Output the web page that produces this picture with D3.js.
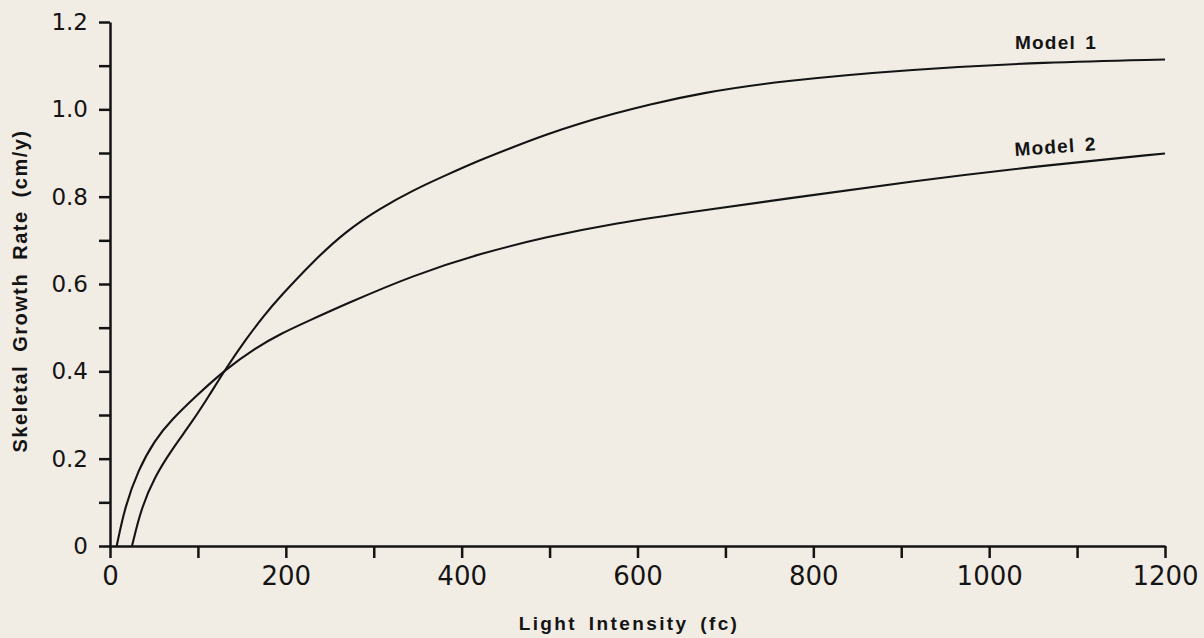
<!DOCTYPE html>
<html>
<head>
<meta charset="utf-8">
<script src="https://cdn.jsdelivr.net/npm/d3@7"></script>
<style>
  html, body { margin: 0; padding: 0; background: #f1ece4; }
  svg { display: block; }
</style>
</head>
<body>
<svg id="chart" width="1204" height="638"></svg>
<script>
// ---- Data ----
const xTicks = [0, 100, 200, 300, 400, 500, 600, 700, 800, 900, 1000, 1100, 1200];
const xTickLabels = ["0", "", "200", "", "400", "", "600", "", "800", "", "1000", "", "1200"];
const yTicks = [0, 0.1, 0.2, 0.3, 0.4, 0.5, 0.6, 0.7, 0.8, 0.9, 1.0, 1.1, 1.2];
const yTickLabels = ["0", "", "0.2", "", "0.4", "", "0.6", "", "0.8", "", "1.0", "", "1.2"];

const model1Light = [25, 36, 51, 70, 93, 112, 132, 154, 176, 193, 231, 269, 307, 345, 383, 421, 459, 497, 535, 573, 611, 671, 762, 913, 1065, 1200];
const model1Rate  = [0, 0.090, 0.159, 0.220, 0.283, 0.342, 0.407, 0.472, 0.530, 0.570, 0.652, 0.722, 0.773, 0.815, 0.850, 0.884, 0.914, 0.943, 0.968, 0.990, 1.010, 1.037, 1.065, 1.092, 1.108, 1.114];
const model2Light = [7.6, 17, 32, 51, 70, 97, 133, 165, 195, 222, 269, 345, 421, 497, 573, 671, 762, 913, 1065, 1200];
const model2Rate  = [0, 0.090, 0.174, 0.243, 0.289, 0.342, 0.407, 0.453, 0.487, 0.512, 0.555, 0.620, 0.670, 0.708, 0.739, 0.768, 0.793, 0.836, 0.872, 0.899];

const seriesNames = ["Model 1", "Model 2"];
const xTitle = "Light Intensity (fc)";
const yTitle = "Skeletal Growth Rate (cm/y)";

// ---- Layout ----
const svg = d3.select("#chart");
const ink = "#141414";
const x = d3.scaleLinear().domain([0, 1200]).range([110, 1165]);
const y = d3.scaleLinear().domain([0, 1.2]).range([546, 22]);

// axes
const xAxis = d3.axisBottom(x).tickValues(xTicks)
  .tickFormat((d, i) => xTickLabels[i]).tickSize(12).tickSizeOuter(0).tickPadding(9);
const yAxis = d3.axisLeft(y).tickValues(yTicks)
  .tickFormat((d, i) => yTickLabels[i]).tickSize(11).tickSizeOuter(0).tickPadding(11);

const gx = svg.append("g").attr("transform", `translate(0,${y(0)})`).call(xAxis);
const gy = svg.append("g").attr("transform", `translate(${x(0)},0)`).call(yAxis);

[gx, gy].forEach(g => {
  g.select(".domain").attr("stroke", ink).attr("stroke-width", 2.5);
  g.selectAll(".tick line").attr("stroke", ink).attr("stroke-width", 2.5);
  g.selectAll(".tick text").attr("fill", ink).attr("font-family", "DejaVu Sans");
});
gx.selectAll(".tick text").attr("font-size", 26);
gy.selectAll(".tick text").attr("font-size", 23);

// curves
const line = d3.line().x(d => x(d[0])).y(d => y(d[1])).curve(d3.curveBasis);
const m1 = model1Light.map((v, i) => [v, model1Rate[i]]);
const m2 = model2Light.map((v, i) => [v, model2Rate[i]]);
[m1, m2].forEach(data => {
  svg.append("path").datum(data).attr("d", line)
    .attr("fill", "none").attr("stroke", ink).attr("stroke-width", 2.1);
});

// series labels
svg.append("text").attr("x", 1015).attr("y", 49)
  .attr("font-family", "Liberation Sans").attr("font-weight", "bold").attr("font-size", 19)
  .attr("letter-spacing", 1.2).attr("word-spacing", 3).attr("fill", ink).text(seriesNames[0]);
svg.append("text").attr("transform", "translate(1015,156) rotate(-4)")
  .attr("font-family", "Liberation Sans").attr("font-weight", "bold").attr("font-size", 19)
  .attr("letter-spacing", 1.2).attr("word-spacing", 3).attr("fill", ink).text(seriesNames[1]);

// axis titles
svg.append("text").attr("x", 629).attr("y", 630).attr("text-anchor", "middle")
  .attr("font-family", "Liberation Sans").attr("font-weight", "bold").attr("font-size", 19)
  .attr("letter-spacing", 2.4).attr("word-spacing", 4).attr("fill", ink).text(xTitle);
svg.append("text").attr("transform", "translate(27,291) rotate(-90)").attr("text-anchor", "middle")
  .attr("font-family", "Liberation Sans").attr("font-weight", "bold").attr("font-size", 20)
  .attr("letter-spacing", 1.5).attr("word-spacing", 6).attr("fill", ink).text(yTitle);
</script>
</body>
</html>
